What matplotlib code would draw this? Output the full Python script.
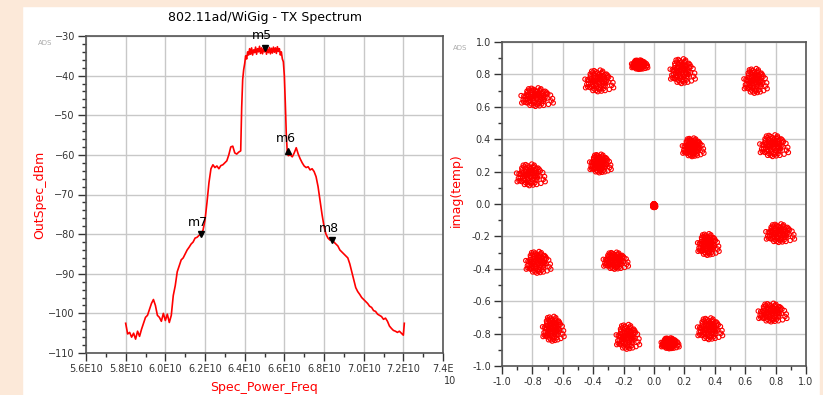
import matplotlib
matplotlib.use("Agg")
import matplotlib.pyplot as plt
from matplotlib.patches import Rectangle
from matplotlib.ticker import MultipleLocator, FuncFormatter

# spectrum trace, frequency in units of 1E10 Hz
spec_freq = [5.80, 5.81, 5.82, 5.83, 5.84, 5.85, 5.86, 5.87, 5.88, 5.89,
             5.90, 5.91, 5.92, 5.93, 5.94, 5.95, 5.96, 5.97, 5.98, 5.99,
             6.00, 6.01, 6.02, 6.03, 6.04, 6.05, 6.06, 6.07, 6.08, 6.09,
             6.10, 6.11, 6.12, 6.13, 6.14, 6.15, 6.16, 6.17, 6.18, 6.19,
             6.20, 6.21, 6.22, 6.23, 6.24, 6.25, 6.26, 6.27, 6.28, 6.29,
             6.30, 6.31, 6.32, 6.33, 6.34, 6.35, 6.36, 6.37, 6.38, 6.385,
             6.39, 6.395,
             6.400, 6.405, 6.410, 6.415, 6.420, 6.425, 6.430, 6.435, 6.440, 6.445,
             6.450, 6.455, 6.460, 6.465, 6.470, 6.475, 6.480, 6.485, 6.490, 6.495,
             6.500, 6.505, 6.510, 6.515, 6.520, 6.525, 6.530, 6.535, 6.540, 6.545,
             6.550, 6.555, 6.560, 6.565, 6.570, 6.575, 6.580, 6.585, 6.590, 6.595,
             6.60, 6.605, 6.61, 6.615, 6.62, 6.63, 6.64, 6.65, 6.66,
             6.67, 6.68, 6.69, 6.70, 6.71, 6.72, 6.73, 6.74, 6.75, 6.76,
             6.77, 6.78, 6.79, 6.80, 6.81, 6.82, 6.83, 6.84, 6.85, 6.86,
             6.87, 6.88, 6.89, 6.90, 6.91, 6.92, 6.93, 6.94, 6.95, 6.96,
             6.97, 6.98, 6.99, 7.00, 7.01, 7.02, 7.03, 7.04, 7.05, 7.06,
             7.07, 7.08, 7.09, 7.10, 7.11, 7.12, 7.13, 7.14, 7.15, 7.16,
             7.17, 7.18, 7.19, 7.20, 7.205]
spec_dbm = [-102.5, -105.2, -104.8, -106.0, -105.0, -106.5, -104.5, -105.8, -104.0, -102.5,
            -101.0, -100.5, -99.0, -97.5, -96.5, -98.0, -100.5, -101.0, -102.0, -100.0,
            -101.8, -100.2, -102.3, -100.5, -95.5, -93.0, -89.5, -88.0, -86.5, -86.0,
            -85.0, -84.0, -83.3, -82.5, -82.0, -81.0, -80.8, -80.3, -80.0, -79.0,
            -76.5, -72.0, -67.0, -63.5, -62.5, -63.2, -62.8, -63.5, -62.7, -62.5,
            -62.0, -61.5, -60.0, -58.0, -57.8, -59.5, -59.8, -59.3, -59.0, -48.0,
            -41.0, -38.5,
            -37.0, -35.0, -35.8, -34.0, -34.8, -33.2, -34.6, -33.0, -34.8, -33.5,
            -34.2, -32.8, -34.6, -33.2, -34.0, -32.6, -34.4, -33.0, -34.5, -33.2,
            -34.0, -32.7, -34.6, -33.3, -34.2, -32.9, -34.5, -33.1, -34.3, -32.8,
            -34.1, -33.0, -34.4, -32.7, -33.9, -33.2, -34.8, -34.0, -35.8, -36.5,
            -40.0, -47.0, -55.0, -59.5, -60.2, -60.0, -60.5, -59.5, -58.2,
            -59.8, -61.0, -62.0, -62.8, -63.2, -63.0, -63.8, -63.5, -64.2, -65.5,
            -68.0, -71.5, -75.0, -78.0, -80.0, -81.0, -81.5, -81.2, -82.0, -82.5,
            -83.0, -84.0, -84.5, -85.0, -85.5, -86.0, -87.5, -89.5, -91.5, -93.5,
            -94.5, -95.2, -96.0, -96.5, -97.0, -97.5, -98.2, -98.5, -99.3, -99.5,
            -100.2, -100.5, -100.8, -101.5, -101.2, -102.0, -103.2, -103.8, -104.3, -104.5,
            -104.8, -104.5, -105.0, -105.5, -102.5]

# markers
mk_names = ["m5", "m6", "m7", "m8"]
mk_freq = [6.50, 6.62, 6.18, 6.84]
mk_dbm = [-33.0, -59.0, -80.0, -81.5]
mk_up = [False, True, False, False]

# constellation clusters: center x, center y, spread x, spread y
cl_x = [-0.78, -0.37, -0.10, 0.18, 0.66, 0.25, 0.78, -0.82, -0.36, 0.0,
        0.82, 0.35, -0.77, -0.26, -0.67, -0.18, 0.10, 0.36, 0.77]
cl_y = [0.66, 0.76, 0.86, 0.82, 0.76, 0.35, 0.36, 0.18, 0.25, -0.01,
        -0.18, -0.25, -0.36, -0.35, -0.77, -0.82, -0.86, -0.77, -0.67]
cl_rx = [0.09, 0.08, 0.045, 0.07, 0.065, 0.06, 0.08, 0.08, 0.06, 0.008,
         0.08, 0.06, 0.07, 0.07, 0.06, 0.065, 0.05, 0.07, 0.08]
cl_ry = [0.06, 0.07, 0.03, 0.08, 0.08, 0.06, 0.07, 0.07, 0.06, 0.012,
         0.06, 0.07, 0.07, 0.055, 0.08, 0.08, 0.035, 0.07, 0.06]
# shape of a cluster (unit scale)
blob = [(0.0, 0.0), (0.3, 0.1), (-0.3, -0.1), (0.6, 0.0), (-0.6, 0.05),
        (0.15, 0.4), (-0.15, -0.4), (0.45, 0.35), (-0.45, -0.35), (0.75, 0.3),
        (-0.75, -0.25), (0.0, 0.7), (0.3, 0.65), (-0.3, -0.7), (0.6, 0.55),
        (-0.6, -0.6), (0.15, -0.8), (-0.15, 0.8), (0.45, -0.7), (-0.45, 0.7),
        (0.0, -0.95), (0.3, -0.9), (-0.3, 0.9), (0.6, -0.45), (-0.6, 0.45),
        (0.2, 0.2), (-0.2, -0.2), (0.5, -0.15), (-0.5, 0.2), (0.85, -0.1),
        (-0.85, 0.1), (0.1, 0.55), (-0.1, -0.55), (0.4, 0.85), (-0.4, -0.85),
        (0.7, 0.6), (-0.7, -0.55), (0.25, -0.45), (-0.25, 0.3), (0.55, 0.15),
        (-0.55, -0.2), (0.0, 0.3), (0.35, -0.3), (-0.35, 0.05), (0.9, 0.35),
        (-0.9, -0.3), (1.15, -0.4), (-1.05, 0.15), (0.95, -0.75), (1.3, -0.6),
        (0.1, -0.25), (-0.1, 0.15), (0.65, -0.25), (-0.65, 0.25), (0.2, 0.95),
        (0.08, 0.12), (-0.22, 0.05), (0.38, -0.08), (-0.42, -0.12), (0.12, -0.12),
        (-0.05, 0.42), (0.25, 0.45), (-0.3, 0.55), (0.5, 0.45), (-0.5, -0.5),
        (0.05, -0.7), (-0.15, -0.85), (0.35, 0.75), (-0.2, 0.65), (0.7, -0.05),
        (-0.75, 0.05), (0.22, -0.65), (-0.38, -0.45), (0.48, -0.42), (-0.62, 0.6),
        (0.8, 0.5), (-0.85, -0.5), (0.15, 0.25), (-0.12, -0.3), (0.42, 0.18),
        (1.1, 0.2), (-1.0, -0.6), (0.6, -0.85), (-0.5, 0.85), (1.25, -0.15)]

red = "#ff0000"
peach = "#fce9d9"
tick_col = "#333333"

fig = plt.figure(figsize=(8.23, 3.95), dpi=100)
fig.patch.set_facecolor("white")
fig.add_artist(Rectangle((0, 0), 22 / 823, 1, transform=fig.transFigure, color=peach, zorder=-5))
fig.add_artist(Rectangle((0, 1 - 6 / 395), 1, 6 / 395, transform=fig.transFigure, color=peach, zorder=-5))
fig.add_artist(Rectangle((820 / 823, 0), 3 / 823, 1, transform=fig.transFigure, color=peach, zorder=-5))

# ---- left: spectrum ----
ax = fig.add_axes([86 / 823, 1 - 353 / 395, 357 / 823, 317 / 395])
ax.plot(spec_freq, spec_dbm, color=red, lw=1.2, zorder=3)
for n, fx, fy, up in zip(mk_names, mk_freq, mk_dbm, mk_up):
    ax.plot(fx, fy, marker="^" if up else "v", color="black", ms=5, zorder=4)
    ax.annotate(n, (fx, fy), xytext=(-2, 4), textcoords="offset points",
                ha="center", va="bottom", fontsize=9, zorder=5)
ax.set_xlim(5.6, 7.4)
ax.set_ylim(-110, -30)
ax.xaxis.set_major_locator(MultipleLocator(0.2))
ax.xaxis.set_minor_locator(MultipleLocator(0.1))
ax.yaxis.set_major_locator(MultipleLocator(10))
ax.yaxis.set_minor_locator(MultipleLocator(2))
xt = ["5.6E10", "5.8E10", "6.0E10", "6.2E10", "6.4E10", "6.6E10", "6.8E10",
      "7.0E10", "7.2E10", "7.4E"]
ax.xaxis.set_major_formatter(FuncFormatter(lambda v, p: xt[int(round((v - 5.6) / 0.2))]
                                           if 0 <= round((v - 5.6) / 0.2) < len(xt) else ""))
ax.grid(True, which="major", color="#c8c8c8", lw=1)
ax.set_title("802.11ad/WiGig - TX Spectrum", fontsize=9, pad=11)

# ---- right: constellation ----
ax2 = fig.add_axes([502 / 823, 1 - 366 / 395, 304 / 823, 324 / 395])
px, py = [], []
for cx, cy, rx, ry in zip(cl_x, cl_y, cl_rx, cl_ry):
    for ox, oy in blob:
        px.append(cx + rx * ox)
        py.append(cy + ry * oy)
ax2.scatter(px, py, s=10, facecolors="none", edgecolors=red, linewidths=0.8, zorder=3)
ax2.set_xlim(-1.0, 1.0)
ax2.set_ylim(-1.0, 1.0)
ax2.xaxis.set_major_locator(MultipleLocator(0.2))
ax2.xaxis.set_minor_locator(MultipleLocator(0.1))
ax2.yaxis.set_major_locator(MultipleLocator(0.2))
ax2.yaxis.set_minor_locator(MultipleLocator(0.1))
ax2.xaxis.set_major_formatter(FuncFormatter(lambda v, p: "%.1f" % (0.0 if abs(v) < 1e-9 else v)))
ax2.yaxis.set_major_formatter(FuncFormatter(lambda v, p: "%.1f" % (0.0 if abs(v) < 1e-9 else v)))
ax2.grid(True, which="major", color="#c8c8c8", lw=1)

for a in (ax, ax2):
    for s in a.spines.values():
        s.set_color("#555555")
        s.set_linewidth(1.2)
    a.tick_params(which="major", length=6, width=1, color="#333333",
                  labelsize=7, labelcolor=tick_col, pad=2)
    a.tick_params(which="minor", length=3, width=1, color="#333333")
    a.set_axisbelow(True)

fig.text(40 / 823, 1 - 195 / 395, "OutSpec_dBm", rotation=90, color=red,
         fontsize=9, ha="center", va="center")
fig.text(264 / 823, 1 - 388 / 395, "Spec_Power_Freq", color=red,
         fontsize=9, ha="center", va="center")
fig.text(456 / 823, 1 - 190 / 395, "imag(temp)", rotation=90, color=red,
         fontsize=9, ha="center", va="center")
fig.text(45 / 823, 1 - 43 / 395, "ADS", color="#aaaaaa", fontsize=5, ha="center", va="center")
fig.text(460 / 823, 1 - 48 / 395, "ADS", color="#aaaaaa", fontsize=5, ha="center", va="center")
fig.text(450 / 823, 1 - 381 / 395, "10", color="#333333", fontsize=7, ha="center", va="center")

fig.savefig("out.png", dpi=100)
